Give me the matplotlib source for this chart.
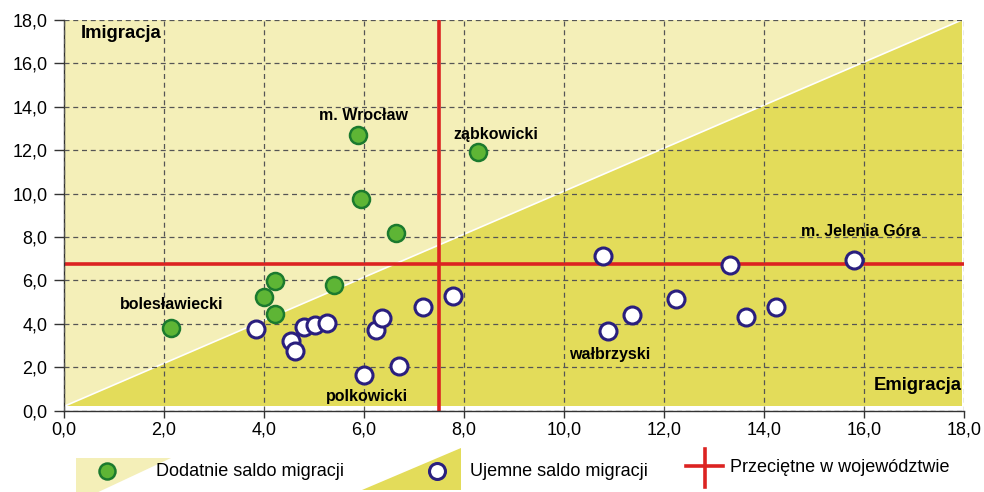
import matplotlib
matplotlib.use("Agg")
import matplotlib.pyplot as plt
from matplotlib.patches import Polygon
from matplotlib.lines import Line2D

plt.rcParams["font.family"] = ["Liberation Sans", "DejaVu Sans"]

# dodatnie saldo migracji (x, y)
pos_x = [2.13, 5.87, 8.27, 5.94, 6.64, 4.21, 3.99, 4.22, 5.40]
pos_y = [3.80, 12.68, 11.94, 9.76, 8.20, 5.97, 5.23, 4.45, 5.80]

# ujemne saldo migracji (x, y)
neg_x = [3.84, 4.53, 4.62, 4.79, 5.02, 5.25, 6.24, 6.36, 6.00, 6.69,
         7.18, 7.77, 10.77, 13.31, 15.80, 12.23, 11.35, 10.87, 13.64, 14.24]
neg_y = [3.76, 3.20, 2.73, 3.84, 3.94, 4.02, 3.71, 4.27, 1.64, 2.07,
         4.77, 5.28, 7.13, 6.70, 6.95, 5.16, 4.41, 3.65, 4.30, 4.76]

# przeciętne w województwie
avg_x = 7.5
avg_y = 6.75

labels = ["m. Wrocław", "ząbkowicki", "bolesławiecki", "polkowicki",
          "wałbrzyski", "m. Jelenia Góra"]
label_x = [5.99, 8.64, 2.15, 6.06, 10.91, 15.93]
label_y = [13.62, 12.71, 4.87, 0.67, 2.58, 8.25]

ticks = [0, 2, 4, 6, 8, 10, 12, 14, 16, 18]

light = "#f4efb8"
dark = "#e3dc5a"
red = "#dc2321"
navy = "#2a1f7e"
green = "#5eb535"
dgreen = "#1b7a2e"

W, H = 984, 492
fig = plt.figure(figsize=(W / 100, H / 100), dpi=100)
ax = fig.add_axes([64 / W, (H - 410.7) / H, 900.3 / W, 390.7 / H])
ax.set_xlim(0, 18)
ax.set_ylim(0, 18)

# tło: imigracja / emigracja
ax.add_patch(Polygon([(0, 0.2), (17.95, 0.2), (17.95, 18), (0, 18)],
                     closed=True, fc=light, ec="none", zorder=0))
ax.add_patch(Polygon([(0, 0.2), (17.95, 0.2), (17.95, 18)],
                     closed=True, fc=dark, ec="none", zorder=0.5))
ax.plot([0, 17.95], [0.2, 18], color="white", lw=1.2, zorder=0.6)

ax.set_xticks(ticks)
ax.set_yticks(ticks)
ax.set_xticklabels([f"{t:.1f}".replace(".", ",") for t in ticks])
ax.set_yticklabels([f"{t:.1f}".replace(".", ",") for t in ticks])
ax.grid(True, color="#555555", linestyle=(0, (4, 3)), linewidth=0.9)
ax.set_axisbelow(False)
for gl in ax.get_xgridlines() + ax.get_ygridlines():
    gl.set_zorder(1)
ax.spines["top"].set_visible(False)
ax.spines["right"].set_visible(False)
for s in ["left", "bottom"]:
    ax.spines[s].set_color("#333333")
    ax.spines[s].set_linewidth(1.0)
ax.tick_params(axis="y", length=7, width=1, color="#333333", pad=5, labelsize=13)
ax.tick_params(axis="x", length=5, width=1, color="#333333", pad=3, labelsize=13)

ax.axvline(avg_x, color=red, lw=2.6, zorder=2)
ax.axhline(avg_y, color=red, lw=2.6, zorder=2)

ax.scatter(pos_x, pos_y, s=150, c=green, edgecolors=dgreen, linewidths=1.8, zorder=3)
ax.scatter(neg_x, neg_y, s=150, c="white", edgecolors=navy, linewidths=2.2, zorder=3)

for t, x, y in zip(labels, label_x, label_y):
    ax.text(x, y, t, ha="center", va="center", fontsize=11.5, fontweight="bold", zorder=4)

ax.text(0.33, 17.38, "Imigracja", ha="left", va="center", fontsize=13.3, fontweight="bold")
ax.text(17.95, 1.15, "Emigracja", ha="right", va="center", fontsize=13.3, fontweight="bold")

# legenda (w pikselach figury)
def fp(x, y):
    return (x / W, 1 - y / H)

fig.add_artist(Polygon([fp(76, 458), fp(171, 458), fp(92, 495), fp(76, 495)],
                       closed=True, fc=light, ec="none", transform=fig.transFigure))
fig.add_artist(Line2D([106.7 / W], [1 - 470.7 / H], marker="o", ms=11.5, mfc=green,
                      mec=dgreen, mew=1.8, transform=fig.transFigure))
fig.text(156.5 / W, 1 - 471 / H, "Dodatnie saldo migracji", fontsize=13, va="center")

fig.add_artist(Polygon([fp(362, 490), fp(461, 448), fp(461, 490)],
                       closed=True, fc=dark, ec="none", transform=fig.transFigure))
fig.add_artist(Line2D([437.3 / W], [1 - 470.7 / H], marker="o", ms=11.5, mfc="white",
                      mec=navy, mew=2.2, transform=fig.transFigure))
fig.text(470 / W, 1 - 471 / H, "Ujemne saldo migracji", fontsize=13, va="center")

fig.add_artist(Line2D([686 / W, 723 / W], [1 - 466 / H, 1 - 466 / H], color=red, lw=2.6,
                      transform=fig.transFigure))
fig.add_artist(Line2D([705 / W, 705 / W], [1 - 449 / H, 1 - 487 / H], color=red, lw=2.6,
                      transform=fig.transFigure))
fig.text(730 / W, 1 - 468 / H, "Przeciętne w województwie", fontsize=13, va="center")

fig.savefig("out.png", dpi=100)
